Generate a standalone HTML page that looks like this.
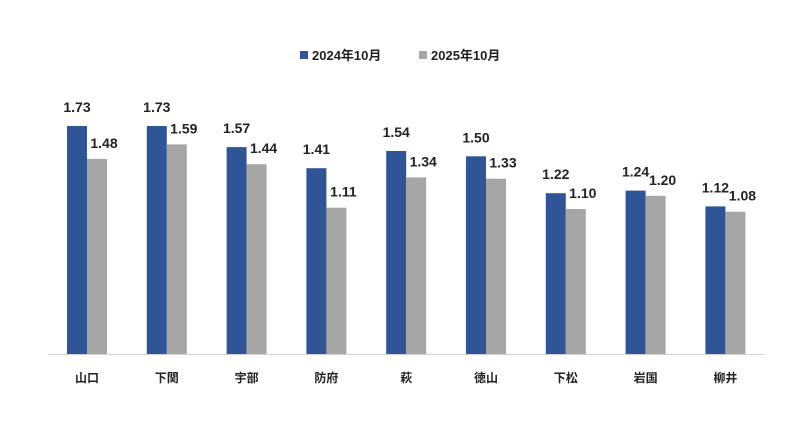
<!DOCTYPE html>
<html><head><meta charset="utf-8"><style>body{margin:0;background:#fff}svg{display:block}text{font-family:"Liberation Sans","Noto Sans CJK JP",sans-serif;font-weight:bold;fill:#222}</style></head><body>
<svg width="800" height="445" xmlns="http://www.w3.org/2000/svg">
<rect x="300" y="51" width="8" height="8" fill="#2F5597"/>
<text x="312" y="60" font-size="13">2024年10月</text>
<rect x="419" y="51" width="8" height="8" fill="#A6A6A6"/>
<text x="431" y="60" font-size="13">2025年10月</text>
<line x1="48" y1="354.5" x2="765" y2="354.5" stroke="#d0d0d0" stroke-width="1"/>
<g fill="#2F5597">
<rect x="67" y="126" width="20" height="228"/>
<rect x="146.8" y="126" width="20" height="228"/>
<rect x="226.6" y="147.1" width="20" height="206.9"/>
<rect x="306.4" y="168.2" width="20" height="185.8"/>
<rect x="386.2" y="151" width="20" height="203"/>
<rect x="466" y="156.3" width="20" height="197.7"/>
<rect x="545.8" y="193.2" width="20" height="160.8"/>
<rect x="625.6" y="190.6" width="20" height="163.4"/>
<rect x="705.4" y="206.4" width="20" height="147.6"/>
</g>
<g fill="#A6A6A6">
<rect x="87" y="158.9" width="20" height="195.1"/>
<rect x="166.8" y="144.4" width="20" height="209.6"/>
<rect x="246.6" y="164.2" width="20" height="189.8"/>
<rect x="326.4" y="207.7" width="20" height="146.3"/>
<rect x="406.2" y="177.4" width="20" height="176.6"/>
<rect x="486" y="178.7" width="20" height="175.3"/>
<rect x="565.8" y="209" width="20" height="145"/>
<rect x="645.6" y="195.8" width="20" height="158.2"/>
<rect x="725.4" y="211.7" width="20" height="142.3"/>
</g>
<g font-size="14" text-anchor="middle">
<text x="77" y="112">1.73</text><text x="104" y="148">1.48</text>
<text x="156.8" y="112">1.73</text><text x="183.8" y="133.4">1.59</text>
<text x="236.6" y="133.1">1.57</text><text x="263.6" y="153.2">1.44</text>
<text x="316.4" y="154.2">1.41</text><text x="343.4" y="196.7">1.11</text>
<text x="396.2" y="137">1.54</text><text x="423.2" y="166.4">1.34</text>
<text x="476" y="142.3">1.50</text><text x="503" y="167.7">1.33</text>
<text x="555.8" y="179.2">1.22</text><text x="582.8" y="198">1.10</text>
<text x="635.6" y="176.6">1.24</text><text x="662.6" y="184.8">1.20</text>
<text x="715.4" y="192.4">1.12</text><text x="742.4" y="200.7">1.08</text>
</g>
<g font-size="12" text-anchor="middle">
<text x="87" y="382">山口</text><text x="166.8" y="382">下関</text><text x="246.6" y="382">宇部</text>
<text x="326.4" y="382">防府</text><text x="406.2" y="382">萩</text><text x="486" y="382">徳山</text>
<text x="565.8" y="382">下松</text><text x="645.6" y="382">岩国</text><text x="725.4" y="382">柳井</text>
</g>
</svg></body></html>
